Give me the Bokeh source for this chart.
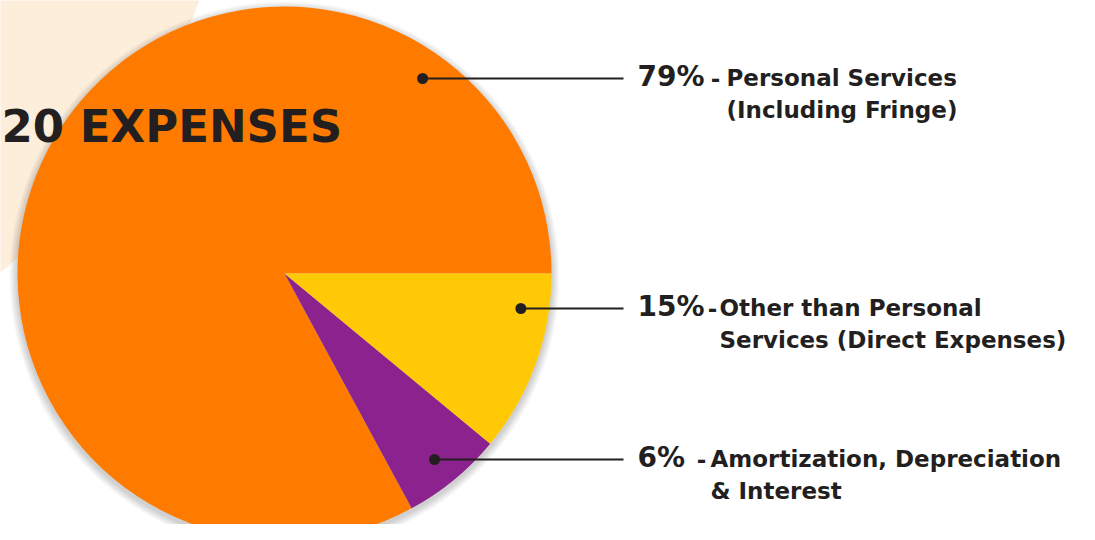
import numpy as np
from bokeh.plotting import figure
from bokeh.models import Range1d, ColumnDataSource
from bokeh.embed import file_html
from bokeh.resources import INLINE
from bokeh.core.properties import value

# ---------------- data ----------------
title_text = "20 EXPENSES"
categories = ["Personal Services", "Amortization, Depreciation & Interest", "Other than Personal Services"]
slice_share = [82.9, 6.1, 11.0]          # shares as drawn, anticlockwise from 3 o'clock
slice_colors = ["#FF7B00", "#8B228D", "#FFC905"]

label_pct = ["79%", "15%", "6%"]
label_line1 = ["Personal Services", "Other than Personal", "Amortization, Depreciation"]
label_line2 = ["(Including Fringe)", "Services (Direct Expenses)", "& Interest"]

# ---------------- layout (reference pixel frame, y downwards) ----------------
REF_H = 540
def Y(y):
    return REF_H - y

TEXT = "#231F20"
FONT = value("DejaVu Sans")

cx, cy, R = 284, 273, 267
label_line_y = [78, 308, 459]
leader_end_x = 623
pct_x = 637
dash_x = [715, 712, 701]
word_x = [726, 719, 710]
dot_r_frac = 0.895
PCT_SIZE, NAME_SIZE, TITLE_SIZE = 28, 23, 45

p = figure(width=1079, height=524, output_backend="svg", toolbar_location=None,
           x_range=Range1d(0, 1079), y_range=Range1d(Y(524), Y(0)),
           min_border=0, outline_line_color=None, background_fill_color="white",
           border_fill_color="white")
p.axis.visible = False
p.grid.visible = False

# peach background disc
p.circle(x=[-400], y=[Y(-230)], radius=641.6, fill_color="#FDEEDC", line_color=None)

# soft shadow
for k in range(1, 9):
    p.circle(x=[cx], y=[Y(cy + 3)], radius=R + k, fill_color="black",
             fill_alpha=0.025, line_color=None)

# pie
share = np.array(slice_share, dtype=float)
ends = np.cumsum(share) / share.sum() * 2 * np.pi
starts = np.concatenate([[0.0], ends[:-1]])
src = ColumnDataSource(dict(start=starts, end=ends, color=slice_colors, cat=categories))
p.wedge(x=cx, y=Y(cy), radius=R, start_angle="start", end_angle="end",
        fill_color="color", line_color=None, source=src)

# title (cap top 108, baseline 142)
p.text(x=[1], y=[Y(142 - 0.36 * TITLE_SIZE)], text=[title_text], text_font=FONT,
       text_font_style="bold", text_font_size=f"{TITLE_SIZE}px", text_color=TEXT,
       text_align="left", text_baseline="middle")

# leader lines and dots
rr = dot_r_frac * R
ly = np.array(label_line_y, dtype=float)
dot_x = cx + np.sqrt(rr ** 2 - (ly - cy) ** 2)
for dx, yy in zip(dot_x, ly):
    p.line(x=[dx, leader_end_x], y=[Y(yy), Y(yy)], line_color=TEXT, line_width=2)
p.scatter(x=dot_x, y=[Y(v) for v in ly], size=11, marker="circle",
          fill_color=TEXT, line_color=None)

# labels
base1 = ly + 8
base2 = base1 + 32
def mid(base, size):
    return [Y(b - 0.36 * size) for b in base]

p.text(x=[pct_x] * 3, y=mid(base1, PCT_SIZE), text=label_pct, text_font=FONT,
       text_font_style="bold", text_font_size=f"{PCT_SIZE}px", text_color=TEXT,
       text_baseline="middle")
p.text(x=dash_x, y=mid(base1, NAME_SIZE), text=["-"] * 3, text_font=FONT,
       text_font_style="bold", text_font_size=f"{NAME_SIZE}px", text_color=TEXT,
       text_align="center", text_baseline="middle")
p.text(x=word_x, y=mid(base1, NAME_SIZE), text=label_line1, text_font=FONT,
       text_font_style="bold", text_font_size=f"{NAME_SIZE}px", text_color=TEXT,
       text_baseline="middle")
p.text(x=word_x, y=mid(base2, NAME_SIZE), text=label_line2, text_font=FONT,
       text_font_style="bold", text_font_size=f"{NAME_SIZE}px", text_color=TEXT,
       text_baseline="middle")

open("out.html", "w").write(file_html(p, INLINE))
